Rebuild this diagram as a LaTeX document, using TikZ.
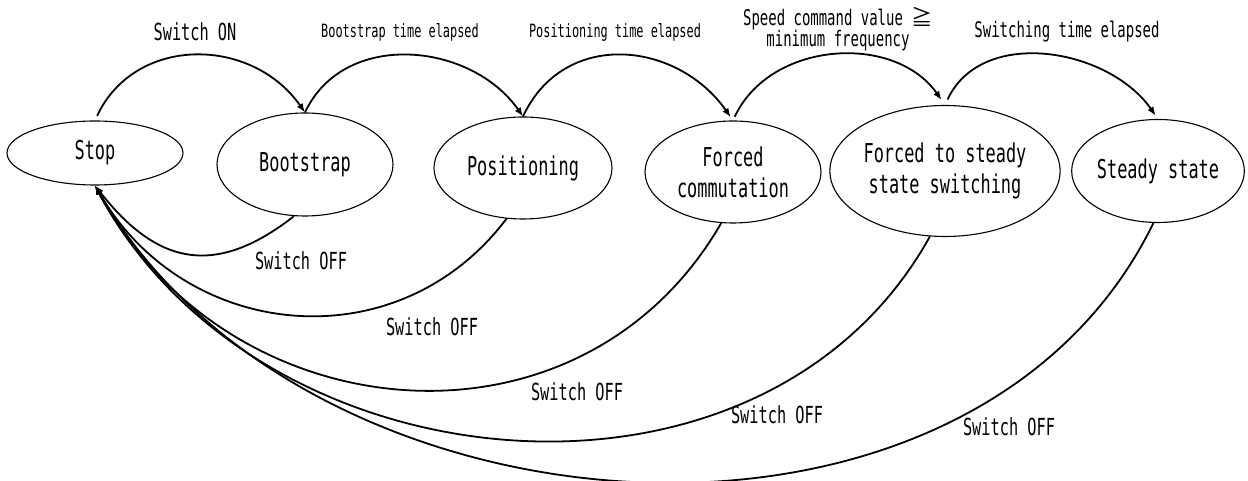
\documentclass[tikz,border=0pt]{standalone}
\usepackage{fontspec}
\setmainfont{DejaVu Sans Mono}[FakeStretch=0.65]
\newfontfamily\jpfont{Noto Sans CJK JP}
\usetikzlibrary{shapes.geometric, arrows.meta, positioning}

\tikzset{
  state/.style={draw, ellipse, line width=0.55pt, inner sep=0pt, align=center,
    font=\fontsize{13}{15.5}\selectfont},
  trans/.style={->, line width=0.9pt},
  offlbl/.style={inner sep=0pt, font=\fontsize{11.75}{14}\selectfont},
  uplbl/.style={inner sep=0pt, align=center, font=\fontsize{10.75}{10.5}\selectfont},
  smalllbl/.style={inner sep=0pt, font=\fontsize{9.15}{10.5}\selectfont},
}

\begin{document}
\begin{tikzpicture}[x=0.5pt, y=0.5pt, >={Latex[length=4.5pt,width=3.5pt]}]
        \useasboundingbox (0,0) rectangle (1248,481);
        \node[state, minimum width=88pt, minimum height=32pt] (stop) at (95,328) {Stop};
        \node[state, minimum width=88pt, minimum height=51.5pt] (boot) at (305,316.5) {Bootstrap};
        \node[state, minimum width=89pt, minimum height=51pt] (pos) at (523,313) {Positioning};
        \node[state, minimum width=88pt, minimum height=51pt] (fc) at (733,309) {Forced\\commutation};
        \node[state, minimum width=114pt, minimum height=65.5pt] (fts) at (945,310) {Forced to steady\\state switching};
        \node[state, minimum width=86pt, minimum height=51.5pt] (steady) at (1158,310) {Steady state};

        \draw[trans, shorten <=2.5pt] (stop.north) to[out=65, in=125, looseness=1.14] (boot.north);
        \draw[trans] (boot.north) to[out=65, in=125, looseness=1.07] (pos.north);
        \draw[trans, shorten >=2pt] (pos.north) to[out=65, in=125, looseness=1.18] (fc.north);
        \draw[trans, shorten <=2pt, shorten >=3pt] (fc.north) to[out=65, in=125, looseness=1.06] (fts.north);
        \draw[trans, shorten <=3pt, shorten >=2pt] (fts.north) to[out=65, in=125, looseness=1.04] (steady.north);

        \node[offlbl] (on) at (195,449) {Switch ON};
        \node[smalllbl] (bootdone) at (400,449) {Bootstrap time elapsed};
        \node[smalllbl] (posdone) at (615,449) {Positioning time elapsed};
        \node[uplbl] (speed) at (838,452) {Speed command value {\jpfont ≧}\\minimum frequency};
        \node[uplbl] (swdone) at (1067,449) {Switching time elapsed};

        \draw[trans] (boot.258) to[out=218, in=-52, looseness=1.28] (stop.south);
        \draw[trans] (pos.252) to[out=233, in=-60, looseness=1.12] (stop.south);
        \draw[trans] (fc.257) to[out=240, in=-62, looseness=1.15] (stop.south);
        \draw[trans] (fts.257) to[out=241, in=-62, looseness=1.06] (stop.south);
        \draw[trans] (steady.265) to[out=244, in=-60, looseness=1.01] (stop.south);

        \node[offlbl] (off1) at (301,220) {Switch OFF};
        \node[offlbl] (off2) at (432,154) {Switch OFF};
        \node[offlbl] (off3) at (577,89) {Switch OFF};
        \node[offlbl] (off4) at (777,66) {Switch OFF};
        \node[offlbl] (off5) at (1009,54) {Switch OFF};
    \end{tikzpicture}
\end{document}
